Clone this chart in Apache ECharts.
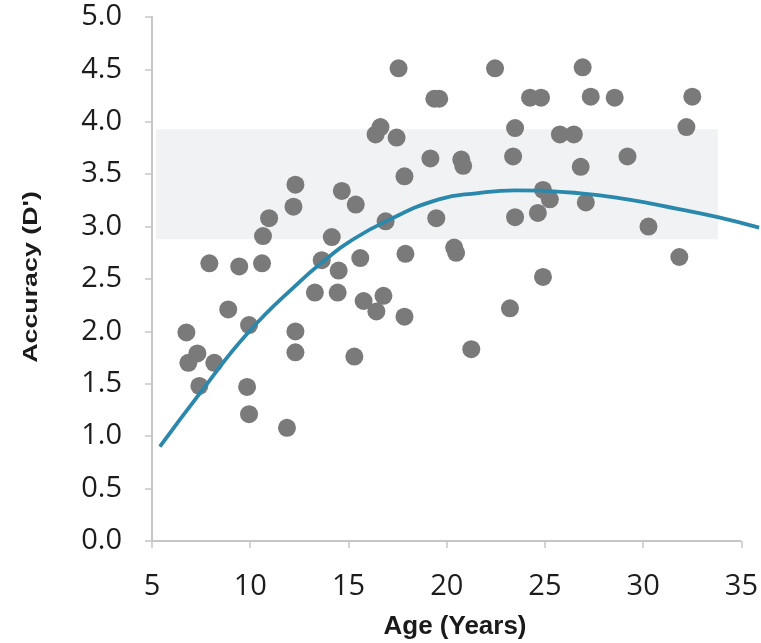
<!DOCTYPE html>
<html>
<head>
<meta charset="utf-8">
<script src="https://cdn.jsdelivr.net/npm/echarts@6/dist/echarts.min.js"></script>
<style>html,body{margin:0;padding:0;background:#fff}#c{width:761px;height:643px}</style>
</head>
<body>
<div id="c"></div>
<script>
// Scatter data: [age, accuracy]
var ages = [6.75,6.85,7.31,8.17,7.41,7.92,8.88,9.44,9.94,9.84,9.94,10.6,10.65,10.96,11.87,12.3,12.2,12.3,12.3,13.29,13.64,14.15,14.66,15.37,14.45,14.5,15.3,15.6,15.77,16.42,16.78,16.38,16.63,16.89,17.45,17.55,17.85,17.9,17.85,19.17,19.37,19.62,19.47,20.38,20.48,20.74,20.84,21.25,22.46,23.22,23.48,23.38,23.48,24.24,24.8,24.9,25.25,24.64,24.9,25.76,26.47,26.82,26.92,27.33,27.08,28.55,29.2,30.27,31.84,32.2,32.5];
var accuracy = [1.99,1.70,1.79,1.70,1.48,2.65,2.21,2.62,2.06,1.47,1.21,2.65,2.91,3.08,1.08,3.40,3.19,2.00,1.80,2.37,2.68,2.90,3.34,3.21,2.37,2.58,1.76,2.70,2.29,2.19,2.34,3.88,3.95,3.05,3.85,4.51,3.48,2.74,2.14,3.65,4.22,4.22,3.08,2.80,2.75,3.64,3.58,1.83,4.51,2.22,3.94,3.67,3.09,4.23,4.23,3.35,3.26,3.13,2.52,3.88,3.88,3.57,4.52,4.24,3.23,4.23,3.67,3.00,2.71,3.95,4.24];
// Fitted curve
var curveAges = [5.4,7.6,9.9,12.5,14.0,15.0,16.9,19.6,21.6,23.5,26.7,29.2,31.75,33.8,35.9];
var curveVals = [0.90,1.45,1.99,2.47,2.71,2.85,3.05,3.26,3.32,3.345,3.32,3.26,3.17,3.09,2.99];
// Shaded band
var bandX = [5.2, 33.8];
var bandY = [2.88, 3.93];
// Axis ticks
var xTicks = [5,10,15,20,25,30,35];
var yTicks = [0,0.5,1,1.5,2,2.5,3,3.5,4,4.5,5];
var xPlotMax = 35.9;

var scatterData = ages.map(function(a,i){return [a, accuracy[i]];});
var curveData = curveAges.map(function(a,i){return [a, curveVals[i]];});

var chart = echarts.init(document.getElementById('c'), null, {renderer:'canvas'});
var axisColor = '#c6c6c6';
chart.setOption({
  backgroundColor:'#ffffff',
  animation:false,
  grid:{left:152,right:0,top:17,bottom:102,containLabel:false},
  xAxis:{
    type:'value', min:xTicks[0], max:xPlotMax, interval:5,
    axisLine:{show:false},
    axisTick:{show:true,length:7,customValues:xTicks,lineStyle:{color:axisColor,width:1.5}},
    splitLine:{show:false},
    axisLabel:{margin:31,fontFamily:'Open Sans',fontSize:29,color:'#1c1c1c',customValues:xTicks}
  },
  yAxis:{
    type:'value', min:yTicks[0], max:yTicks[yTicks.length-1], interval:0.5,
    axisLine:{show:true,lineStyle:{color:axisColor,width:2}},
    axisTick:{show:true,length:7,lineStyle:{color:axisColor,width:1.5}},
    splitLine:{show:false},
    axisLabel:{margin:30,fontFamily:'Open Sans',fontSize:29,color:'#1c1c1c',
      formatter:function(v){return v.toFixed(1);}}
  },
  series:[
    {
      type:'scatter', data:scatterData, symbolSize:18, z:2,
      itemStyle:{color:'#7a7a7a', opacity:1},
      markArea:{silent:true, itemStyle:{color:'#f1f2f4'},
        data:[[{xAxis:bandX[0], yAxis:bandY[0]},{xAxis:bandX[1], yAxis:bandY[1]}]]}
    },
    {
      type:'line', data:curveData, smooth:0.5, symbol:'none', z:3,
      lineStyle:{color:'#2a88ad', width:3.8}
    }
  ]
});
// x axis line from first to last tick, positioned through the chart's scales
var p0 = chart.convertToPixel({gridIndex:0}, [xTicks[0], yTicks[0]]);
var p1 = chart.convertToPixel({gridIndex:0}, [xTicks[xTicks.length-1], yTicks[0]]);
chart.setOption({
  graphic:[
    {type:'line', z:1, shape:{x1:p0[0], y1:p0[1], x2:p1[0], y2:p1[1]},
      style:{stroke:axisColor, lineWidth:2}},
    {type:'text', x:31, y:277, rotation:Math.PI/2, scaleX:1.34,
      style:{text:"Accuracy (D')", font:'bold 20px "Liberation Sans"', fill:'#1a1a1a', align:'center', verticalAlign:'middle'}},
    {type:'text', x:455, y:627,
      style:{text:'Age (Years)', font:'bold 26px "Liberation Sans"', fill:'#1a1a1a', align:'center', verticalAlign:'middle'}}
  ]
});
</script>
</body>
</html>
